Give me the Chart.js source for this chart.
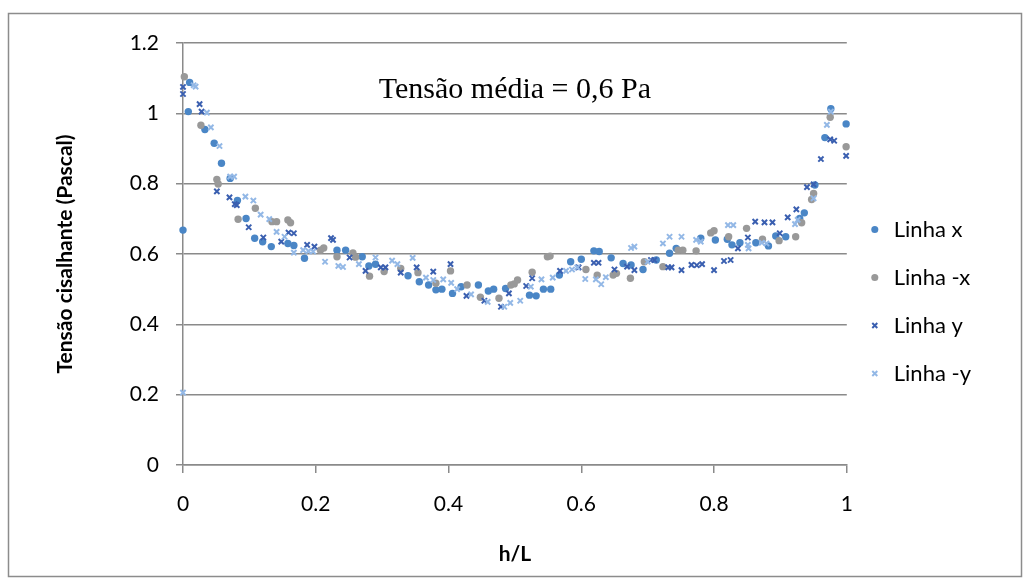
<!DOCTYPE html>
<html>
<head>
<meta charset="utf-8">
<script src="https://cdn.jsdelivr.net/npm/chart.js@4.4.1/dist/chart.umd.min.js"></script>
<style>
  html, body { margin: 0; padding: 0; background: #fff; }
  #wrap { width: 1029px; height: 582px; position: relative; }
</style>
</head>
<body>
<div id="wrap"><canvas id="tensao"></canvas></div>
<script>
// [h/L, tensão (Pa)] for each measurement line
const linhaX = [
  [0.000, 0.668], [0.008, 1.005], [0.010, 1.088], [0.033, 0.954], [0.047, 0.915],
  [0.058, 0.858], [0.071, 0.815], [0.082, 0.752], [0.095, 0.701], [0.108, 0.645],
  [0.120, 0.635], [0.133, 0.621], [0.158, 0.630], [0.167, 0.624], [0.183, 0.588],
  [0.232, 0.611], [0.245, 0.611], [0.270, 0.592], [0.280, 0.566], [0.290, 0.571],
  [0.339, 0.538], [0.356, 0.521], [0.370, 0.512], [0.381, 0.498], [0.390, 0.500],
  [0.406, 0.488], [0.419, 0.507], [0.445, 0.512], [0.460, 0.495], [0.468, 0.500],
  [0.486, 0.502], [0.522, 0.483], [0.532, 0.481], [0.543, 0.500], [0.554, 0.500],
  [0.567, 0.540], [0.584, 0.578], [0.600, 0.585], [0.619, 0.609], [0.627, 0.607],
  [0.645, 0.589], [0.663, 0.573], [0.675, 0.569], [0.693, 0.556], [0.713, 0.583],
  [0.733, 0.602], [0.743, 0.616], [0.780, 0.645], [0.802, 0.640], [0.820, 0.642],
  [0.827, 0.626], [0.839, 0.632], [0.863, 0.632], [0.882, 0.623], [0.893, 0.651],
  [0.908, 0.649], [0.929, 0.701], [0.936, 0.717], [0.952, 0.796], [0.967, 0.931],
  [0.976, 1.013], [0.999, 0.970]
];
const linhaMenosX = [
  [0.002, 1.104], [0.027, 0.966], [0.051, 0.812], [0.053, 0.799], [0.083, 0.699],
  [0.109, 0.730], [0.134, 0.692], [0.141, 0.692], [0.158, 0.697], [0.162, 0.689],
  [0.207, 0.611], [0.212, 0.617], [0.232, 0.592], [0.256, 0.603], [0.260, 0.591],
  [0.281, 0.537], [0.303, 0.550], [0.328, 0.559], [0.354, 0.547], [0.381, 0.517],
  [0.403, 0.552], [0.428, 0.512], [0.448, 0.477], [0.476, 0.474], [0.494, 0.512],
  [0.499, 0.515], [0.504, 0.526], [0.526, 0.548], [0.549, 0.592], [0.553, 0.594],
  [0.607, 0.556], [0.624, 0.540], [0.648, 0.540], [0.653, 0.545], [0.674, 0.531],
  [0.695, 0.578], [0.723, 0.564], [0.746, 0.611], [0.753, 0.611], [0.773, 0.609],
  [0.795, 0.660], [0.800, 0.666], [0.822, 0.649], [0.849, 0.673], [0.873, 0.642],
  [0.898, 0.638], [0.923, 0.649], [0.932, 0.689], [0.947, 0.755], [0.950, 0.772],
  [0.975, 0.989], [0.999, 0.905]
];
const linhaY = [
  [0.000, 1.075], [0.000, 1.055], [0.025, 1.026], [0.028, 1.005], [0.051, 0.778],
  [0.070, 0.761], [0.078, 0.742], [0.081, 0.739], [0.099, 0.676], [0.121, 0.647],
  [0.148, 0.635], [0.159, 0.661], [0.167, 0.659], [0.187, 0.626], [0.198, 0.621],
  [0.223, 0.645], [0.226, 0.640], [0.251, 0.590], [0.275, 0.552], [0.298, 0.562],
  [0.305, 0.562], [0.328, 0.547], [0.352, 0.562], [0.377, 0.550], [0.403, 0.571],
  [0.427, 0.481], [0.454, 0.467], [0.479, 0.450], [0.491, 0.488], [0.517, 0.509],
  [0.526, 0.531], [0.568, 0.552], [0.596, 0.562], [0.619, 0.575], [0.626, 0.575],
  [0.650, 0.556], [0.669, 0.564], [0.680, 0.554], [0.705, 0.583], [0.710, 0.583],
  [0.731, 0.562], [0.736, 0.562], [0.751, 0.554], [0.766, 0.569], [0.774, 0.568],
  [0.782, 0.571], [0.800, 0.554], [0.815, 0.580], [0.825, 0.583], [0.836, 0.616],
  [0.851, 0.647], [0.862, 0.692], [0.876, 0.690], [0.888, 0.690], [0.899, 0.659],
  [0.911, 0.704], [0.924, 0.727], [0.940, 0.790], [0.950, 0.798], [0.961, 0.870],
  [0.975, 0.926], [0.981, 0.922], [0.999, 0.879]
];
const linhaMenosY = [
  [0.000, 0.206], [0.016, 1.080], [0.019, 1.076], [0.036, 1.002], [0.042, 0.960],
  [0.055, 0.907], [0.071, 0.820], [0.077, 0.820], [0.094, 0.763], [0.106, 0.752],
  [0.117, 0.712], [0.130, 0.699], [0.141, 0.663], [0.153, 0.649], [0.167, 0.604],
  [0.181, 0.611], [0.189, 0.608], [0.196, 0.607], [0.214, 0.578], [0.234, 0.566],
  [0.241, 0.563], [0.265, 0.571], [0.290, 0.590], [0.315, 0.581], [0.323, 0.571],
  [0.346, 0.589], [0.366, 0.533], [0.377, 0.526], [0.392, 0.528], [0.404, 0.518],
  [0.413, 0.500], [0.434, 0.485], [0.459, 0.464], [0.484, 0.450], [0.493, 0.461],
  [0.508, 0.467], [0.524, 0.507], [0.540, 0.528], [0.557, 0.533], [0.577, 0.552],
  [0.586, 0.556], [0.594, 0.562], [0.606, 0.529], [0.622, 0.528], [0.630, 0.514],
  [0.637, 0.534], [0.675, 0.617], [0.680, 0.621], [0.700, 0.578], [0.723, 0.630],
  [0.733, 0.649], [0.751, 0.649], [0.773, 0.640], [0.780, 0.635], [0.821, 0.682],
  [0.829, 0.682], [0.851, 0.626], [0.852, 0.616], [0.872, 0.632], [0.879, 0.630],
  [0.922, 0.685], [0.926, 0.697], [0.950, 0.758], [0.970, 0.967], [0.976, 1.005]
];

const seriesNames = ['Linha x', 'Linha -x', 'Linha y', 'Linha -y'];
const seriesData = [linhaX, linhaMenosX, linhaY, linhaMenosY];
const seriesColors = ['#4a86c6', '#999999', '#3a5fb0', '#93b8e6'];
const seriesStyles = ['circle', 'circle', 'crossRot', 'crossRot'];

const anotacao = 'Tensão média = 0,6 Pa';
const gridColor = '#8a8a8a';
const font = 'Lato';

const toPoints = arr => arr.map(p => ({ x: p[0], y: p[1] }));
// "1" instead of "1.0", like the spreadsheet axis
const tickFmt = v => String(Number(v.toFixed(1)));

// white background + outer frame
const frame = {
  id: 'frame',
  beforeDraw(chart) {
    const ctx = chart.ctx;
    ctx.save();
    ctx.fillStyle = '#fff';
    ctx.fillRect(0, 0, chart.width, chart.height);
    ctx.strokeStyle = '#8c8c8c';
    ctx.lineWidth = 1.5;
    ctx.strokeRect(8.5, 13.5, chart.width - 16, chart.height - 19);
    ctx.restore();
  }
};

// text box inside the plot
const caixaTexto = {
  id: 'caixaTexto',
  afterDraw(chart) {
    const ctx = chart.ctx;
    const xs = chart.scales.x;
    ctx.save();
    ctx.font = '30px "Liberation Serif"';
    ctx.fillStyle = '#000';
    ctx.textAlign = 'center';
    ctx.textBaseline = 'alphabetic';
    ctx.fillText(anotacao, xs.getPixelForValue(0.5), chart.chartArea.top + 55);
    ctx.restore();
  }
};

// nudge the legend closer to the plot and a bit up
const legendShift = {
  id: 'legendShift',
  afterLayout(chart) {
    const lg = chart.legend;
    lg.left -= 6; lg.right -= 6;
    lg.top -= 11; lg.bottom -= 11;
  }
};

new Chart(document.getElementById('tensao'), {
  type: 'scatter',
  data: {
    datasets: seriesNames.map((name, i) => ({
      label: name,
      data: toPoints(seriesData[i]),
      pointStyle: seriesStyles[i],
      backgroundColor: seriesColors[i],
      borderColor: seriesColors[i],
      pointRadius: 3.7,
      pointBorderWidth: seriesStyles[i] === 'circle' ? 0 : 2,
      order: 4 - i,
      clip: false
    }))
  },
  options: {
    responsive: true,
    maintainAspectRatio: false,
    animation: false,
    layout: { padding: { top: 43, right: 42, bottom: 0, left: 0 } },
    plugins: {
      tooltip: { enabled: false },
      legend: {
        position: 'right',
        labels: {
          usePointStyle: true,
          boxWidth: 16,
          boxHeight: 5,
          padding: 26,
          color: '#000',
          font: { family: font, size: 22 },
          sort: (a, b) => a.datasetIndex - b.datasetIndex
        }
      }
    },
    scales: {
      x: {
        type: 'linear',
        min: 0, max: 1,
        ticks: { stepSize: 0.2, color: '#000', padding: 19, callback: tickFmt, font: { family: font, size: 21 } },
        grid: { drawOnChartArea: false, drawTicks: true, tickLength: 8, color: gridColor, lineWidth: 1.5 },
        border: { color: gridColor, width: 1.5 },
        title: {
          display: true, text: 'h/L', color: '#000',
          font: { family: font, size: 21, weight: 'bold' },
          padding: { top: 4, bottom: 15 }
        },
        afterFit(scale) { scale.height = 117; }
      },
      y: {
        min: 0, max: 1.2,
        ticks: { stepSize: 0.2, color: '#000', padding: 17, callback: tickFmt, font: { family: font, size: 21 } },
        grid: { color: gridColor, lineWidth: 1.5, tickLength: 7 },
        border: { color: gridColor, width: 1.5 },
        title: {
          display: true, text: 'Tensão cisalhante (Pascal)', color: '#000',
          font: { family: font, size: 21, weight: 'bold' },
          padding: { top: 53, bottom: 0 }
        },
        afterFit(scale) { scale.width = 183; }
      }
    }
  },
  plugins: [frame, caixaTexto, legendShift]
});
</script>
</body>
</html>
